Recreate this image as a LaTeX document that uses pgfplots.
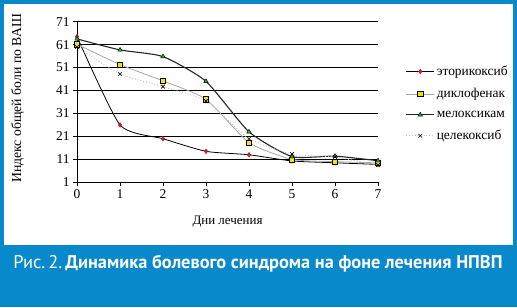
\documentclass[border=0pt]{standalone}
\usepackage{pgfplots}
\pgfplotsset{compat=1.18}
\usepackage{fontspec}
\setmainfont{Liberation Serif}
\newfontfamily\capfont{PT Sans}
\definecolor{frameblue}{RGB}{8,137,204}
\definecolor{mred}{RGB}{220,30,30}
\definecolor{myellow}{RGB}{250,225,0}
\definecolor{mgreen}{RGB}{40,170,60}
\begin{document}
\begin{tikzpicture}[x=1bp,y=1bp]
\fill[frameblue] (0,0) rectangle (517,307);
\fill[white] (4,62) rectangle (513,303);
\begin{axis}[
  at={(77bp,124.7bp)}, anchor=south west,
  width=301bp, height=160.6bp, scale only axis,
  xmin=0, xmax=7, ymin=1, ymax=71,
  xtick={0,...,7}, ytick={1,11,...,71},
  axis x line*=bottom, axis y line*=left,
  tick align=outside, tick pos=left,
  major tick length=4bp,
  ymajorgrids, grid style={black, line width=0.9pt},
  axis line style={black, line width=0.8pt},
  tick style={black, line width=0.8pt},
  /pgf/number format/assume math mode=true,
  ticklabel style={font=\fontsize{13.5}{15}\selectfont},
  xlabel={Дни лечения}, ylabel={Индекс общей боли по ВАШ},
  xlabel style={font=\fontsize{13}{15}\selectfont, at={(axis description cs:0.5,-0.245)}, anchor=center},
  ylabel style={font=\fontsize{13.8}{15}\selectfont, at={(axis description cs:-0.197,0.522)}, anchor=center},
  legend style={draw=none, fill=none, at={(1.088,0.49)}, anchor=west,
    font=\fontsize{13.5}{15}\selectfont, row sep=7.5bp, inner sep=1bp},
  legend cell align=left,
  legend image code/.code={\draw[mark repeat=2,mark phase=2] plot coordinates {(0bp,0bp) (14bp,0bp) (28bp,0bp)};},
  clip=false,
]
\addplot[black, line width=0.8pt, smooth, tension=0.35, mark=diamond*, mark size=2.4pt, mark options={fill=mred, draw=mred!70!black, solid, line width=0.3pt}]
  coordinates {(0,64.5)(1,26)(2,20)(3,14.5)(4,13)(5,10.3)(6,9.5)(7,8.8)};
\addlegendentry{эторикоксиб}
\addplot[gray!70, line width=0.8pt, smooth, tension=0.35, mark=square*, mark size=2.6pt, mark options={fill=myellow, draw=black, solid, line width=0.5pt}]
  coordinates {(0,61.2)(1,52.3)(2,45.2)(3,37.2)(4,18.3)(5,11)(6,10)(7,9.5)};
\addlegendentry{диклофенак}
\addplot[black!85, line width=1.1pt, smooth, tension=0.35, mark=triangle*, mark size=2.6pt, mark options={fill=mgreen, draw=black, solid, line width=0.4pt}]
  coordinates {(0,63.5)(1,58.7)(2,55.8)(3,45)(4,23)(5,12.2)(6,12.4)(7,10.4)};
\addlegendentry{мелоксикам}
\addplot[gray!50, dotted, line width=0.9pt, smooth, tension=0.35, mark=x, mark size=2.6pt, mark options={draw=black, solid, line width=0.6pt}]
  coordinates {(0,60)(1,48.2)(2,42.7)(3,36.4)(4,20)(5,13.3)(6,12)(7,8.5)};
\addlegendentry{целекоксиб}
\end{axis}
\node[anchor=west, text=white, font=\capfont\fontsize{17.5}{19}\selectfont, inner sep=0pt] at (13.3,43.2) {\resizebox{489bp}{!}{Рис.\,2.\,\textbf{Динамика болевого синдрома на фоне лечения НПВП}}};
\end{tikzpicture}
\end{document}
